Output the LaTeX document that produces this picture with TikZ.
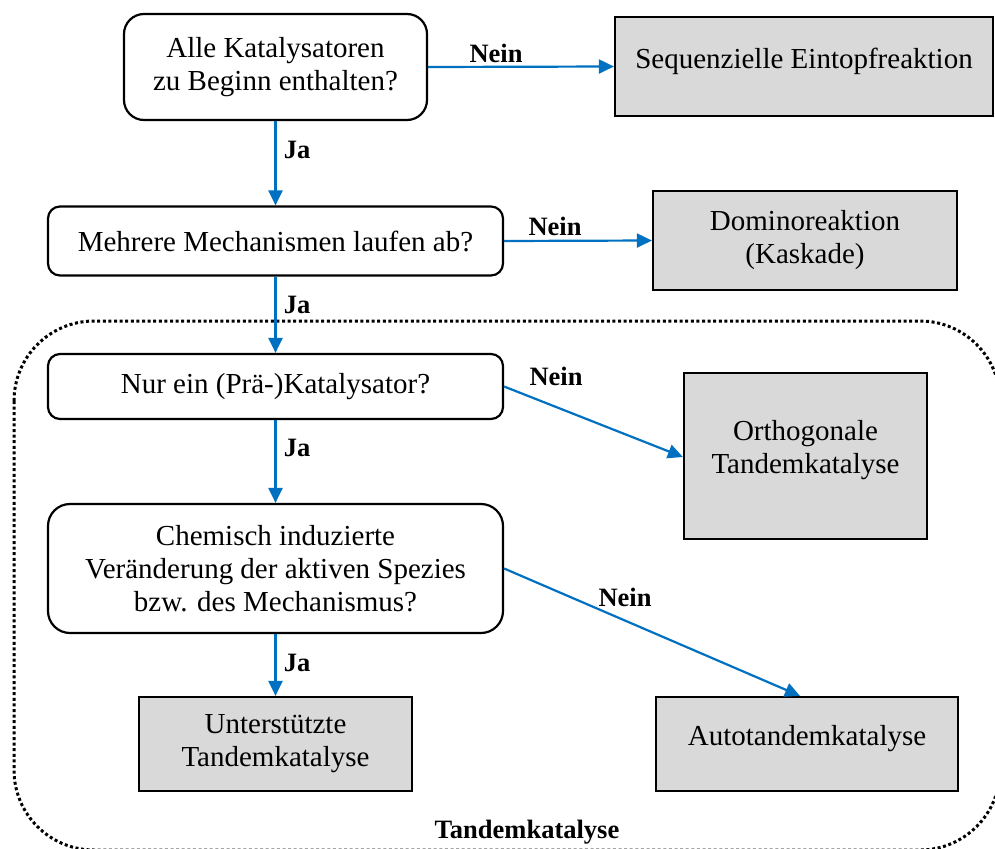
\documentclass[tikz,border=0pt]{standalone}
\usepackage{fontspec}
\setmainfont{Liberation Serif}
\usetikzlibrary{arrows.meta}
\definecolor{arrblue}{HTML}{0070C0}
\definecolor{boxgray}{HTML}{D9D9D9}
\begin{document}
\begin{tikzpicture}[x=1pt,y=-1pt,
  qbox/.style={draw=black, line width=2.2pt, rounded corners=#1, fill=white, align=center, inner sep=0pt,
    font=\fontsize{29}{33}\selectfont},
  qbox/.default=20pt,
  endbox/.style={draw=black, line width=2.2pt, fill=boxgray, align=center, inner sep=0pt,
    font=\fontsize{29}{33}\selectfont},
  txt/.style={align=center, inner sep=0pt, font=\fontsize{29}{33}\selectfont},
  lbl/.style={inner sep=0pt, font=\fontsize{26.5}{30}\selectfont\bfseries},
  arr/.style={draw=arrblue, line width=2.2pt, -{Triangle[length=15pt,width=14pt]}, arrblue},
  frame/.style={draw=black, line width=3pt, dash pattern=on 3pt off 2.6pt, rounded corners=80pt}
]
\useasboundingbox (0,0) rectangle (995,848);
\clip (0,0) rectangle (995,848);

% dotted frame
\draw[frame] (14,321) rectangle (1000,850);
\node[lbl] (tk) at (527,832) {Tandemkatalyse};

% question boxes
\node[qbox=20pt, minimum width=303pt, minimum height=106pt] (q1) at (275.5,67)
  {Alle Katalysatoren\\zu Beginn enthalten?};
\node[qbox=12pt, minimum width=455pt, minimum height=69pt] (q2) at (275.5,241)
  {Mehrere Mechanismen laufen ab?};
\node[qbox=12pt, minimum width=455pt, minimum height=65pt] (q3) at (275.5,386.5)
  {Nur ein (Prä-)Katalysator?};
\node[qbox=22pt, minimum width=455pt, minimum height=129pt] (q4) at (275.5,568.5)
  {Chemisch induzierte\\Veränderung der aktiven Spezies\\bzw. des Mechanismus?};

% end boxes
\node[endbox, minimum width=378pt, minimum height=99pt] (seq) at (804,66.5) {};
\node[txt] (seqt) at (804,61) {Sequenzielle Eintopfreaktion};
\node[endbox, minimum width=304pt, minimum height=99pt] (dom) at (805,240.5)
  {Dominoreaktion\\(Kaskade)};
\node[endbox, minimum width=243pt, minimum height=166pt] (orth) at (805.5,456) {};
\node[txt] (ortht) at (805.5,450) {Orthogonale\\Tandemkatalyse};
\node[endbox, minimum width=273pt, minimum height=94pt] (unt) at (275.5,744)
  {Unterstützte\\Tandemkatalyse};
\node[endbox, minimum width=302pt, minimum height=94pt] (auto) at (807,744) {};
\node[txt] (autot) at (807,739) {Autotandemkatalyse};

% connectors
\draw[arr] (q1.east) -- (seq.west);
\draw[arr] (q1.south) -- (q2.north);
\draw[arr] (q2.east) -- (dom.west);
\draw[arr] (q2.south) -- (q3.north);
\draw[arr] (q3.east) -- ([yshift=-1pt]orth.west);
\draw[arr] (q3.south) -- (q4.north);
\draw[arr] (q4.east) -- ([xshift=-7pt]auto.north);
\draw[arr] (q4.south) -- (unt.north);

% labels
\node[lbl] (n1) at (496,53) {Nein};
\node[lbl] (n2) at (555,226) {Nein};
\node[lbl] (n3) at (556,376) {Nein};
\node[lbl] (n4) at (625,597) {Nein};
\node[lbl] (j1) at (297,150) {Ja};
\node[lbl] (j2) at (297,305) {Ja};
\node[lbl] (j3) at (297,448) {Ja};
\node[lbl] (j4) at (297,663) {Ja};
\end{tikzpicture}
\end{document}
